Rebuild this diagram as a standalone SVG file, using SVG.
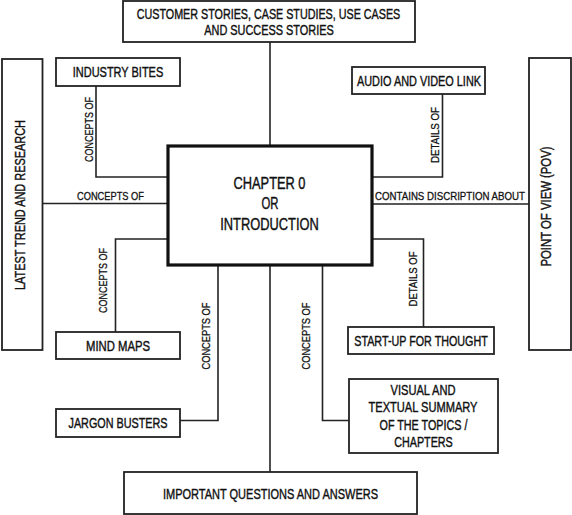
<svg xmlns="http://www.w3.org/2000/svg" width="572" height="515" viewBox="0 0 572 515">
<style>
.box{fill:#fff;stroke:#222;stroke-width:1.8}
.main{fill:#fff;stroke:#111;stroke-width:3.2}
.t{font-family:"Liberation Sans",Arial,sans-serif;font-size:14px;fill:#111;text-anchor:middle;stroke:#111;stroke-width:0.4}
.big{font-size:16.3px}
.s{font-family:"Liberation Sans",Arial,sans-serif;font-size:11.7px;fill:#111;text-anchor:middle;stroke:#111;stroke-width:0.3}
.c{fill:none;stroke:#222;stroke-width:1.6}
</style>
<rect width="572" height="515" fill="#fff"/>
<g id="connectors">
<path class="c" d="M270 42V146"/>
<path class="c" d="M270 265V472"/>
<path class="c" d="M96 86V177H168"/>
<path class="c" d="M42 203.5H168"/>
<path class="c" d="M168 239H115.5V332"/>
<path class="c" d="M180 420.5H218V265"/>
<path class="c" d="M442.5 94V177H372"/>
<path class="c" d="M372 204H529"/>
<path class="c" d="M372 239H423.5V327"/>
<path class="c" d="M349 420.5H322.5V265"/>
<text class="s" transform="translate(93,129.5) rotate(-90)" textLength="65" lengthAdjust="spacingAndGlyphs">CONCEPTS OF</text>
<text class="s" x="110.5" y="200" textLength="67" lengthAdjust="spacingAndGlyphs">CONCEPTS OF</text>
<text class="s" transform="translate(107,280.5) rotate(-90)" textLength="65" lengthAdjust="spacingAndGlyphs">CONCEPTS OF</text>
<text class="s" transform="translate(210,336) rotate(-90)" textLength="67" lengthAdjust="spacingAndGlyphs">CONCEPTS OF</text>
<text class="s" transform="translate(438.5,135) rotate(-90)" textLength="56" lengthAdjust="spacingAndGlyphs">DETAILS OF</text>
<text class="s" x="450" y="200" textLength="150" lengthAdjust="spacingAndGlyphs">CONTAINS DISCRIPTION ABOUT</text>
<text class="s" transform="translate(416.5,279) rotate(-90)" textLength="55" lengthAdjust="spacingAndGlyphs">DETAILS OF</text>
<text class="s" transform="translate(310,336) rotate(-90)" textLength="67" lengthAdjust="spacingAndGlyphs">CONCEPTS OF</text>
</g>
<g id="customer-stories">
<rect class="box" x="123" y="1" width="292" height="41"/>
<text class="t" x="268.5" y="18.5" textLength="263.5" lengthAdjust="spacingAndGlyphs">CUSTOMER STORIES, CASE STUDIES, USE CASES</text>
<text class="t" x="269" y="34.5" textLength="129.5" lengthAdjust="spacingAndGlyphs">AND SUCCESS STORIES</text>
</g>
<g id="industry-bites">
<rect class="box" x="56" y="58" width="124" height="28"/>
<text class="t" x="118" y="77" textLength="90.5" lengthAdjust="spacingAndGlyphs">INDUSTRY BITES</text>
</g>
<g id="latest-trend">
<rect class="box" x="2" y="59" width="40.5" height="291"/>
<text class="t" transform="translate(25,205) rotate(-90)" textLength="170" lengthAdjust="spacingAndGlyphs">LATEST TREND AND RESEARCH</text>
</g>
<g id="chapter">
<rect class="main" x="168" y="146" width="204" height="119"/>
<text class="t big" x="269.5" y="188.5" textLength="72" lengthAdjust="spacingAndGlyphs">CHAPTER 0</text>
<text class="t big" x="270" y="208.5" textLength="17" lengthAdjust="spacingAndGlyphs">OR</text>
<text class="t big" x="269.5" y="230" textLength="98.5" lengthAdjust="spacingAndGlyphs">INTRODUCTION</text>
</g>
<g id="audio-video">
<rect class="box" x="352" y="67" width="133" height="27"/>
<text class="t" x="419" y="85.5" textLength="124" lengthAdjust="spacingAndGlyphs">AUDIO AND VIDEO LINK</text>
</g>
<g id="pov">
<rect class="box" x="529" y="58" width="42" height="292"/>
<text class="t" transform="translate(551,206.5) rotate(-90)" textLength="120" lengthAdjust="spacingAndGlyphs">POINT OF VIEW (POV)</text>
</g>
<g id="mind-maps">
<rect class="box" x="56" y="332" width="124" height="27"/>
<text class="t" x="118" y="350.5" textLength="64" lengthAdjust="spacingAndGlyphs">MIND MAPS</text>
</g>
<g id="jargon-busters">
<rect class="box" x="56" y="409" width="124" height="28"/>
<text class="t" x="118" y="427.5" textLength="99" lengthAdjust="spacingAndGlyphs">JARGON BUSTERS</text>
</g>
<g id="start-up">
<rect class="box" x="348" y="327" width="146" height="27"/>
<text class="t" x="421" y="345.5" textLength="133.5" lengthAdjust="spacingAndGlyphs">START-UP FOR THOUGHT</text>
</g>
<g id="visual-summary">
<rect class="box" x="349" y="379" width="149" height="74"/>
<text class="t" x="423" y="394.5" textLength="65" lengthAdjust="spacingAndGlyphs">VISUAL AND</text>
<text class="t" x="423" y="412" textLength="109" lengthAdjust="spacingAndGlyphs">TEXTUAL SUMMARY</text>
<text class="t" x="423.5" y="429.5" textLength="88" lengthAdjust="spacingAndGlyphs">OF THE TOPICS /</text>
<text class="t" x="423.5" y="447" textLength="58.5" lengthAdjust="spacingAndGlyphs">CHAPTERS</text>
</g>
<g id="questions">
<rect class="box" x="124" y="472" width="293" height="42"/>
<text class="t" x="270.5" y="498.5" textLength="215" lengthAdjust="spacingAndGlyphs">IMPORTANT QUESTIONS AND ANSWERS</text>
</g>
</svg>
